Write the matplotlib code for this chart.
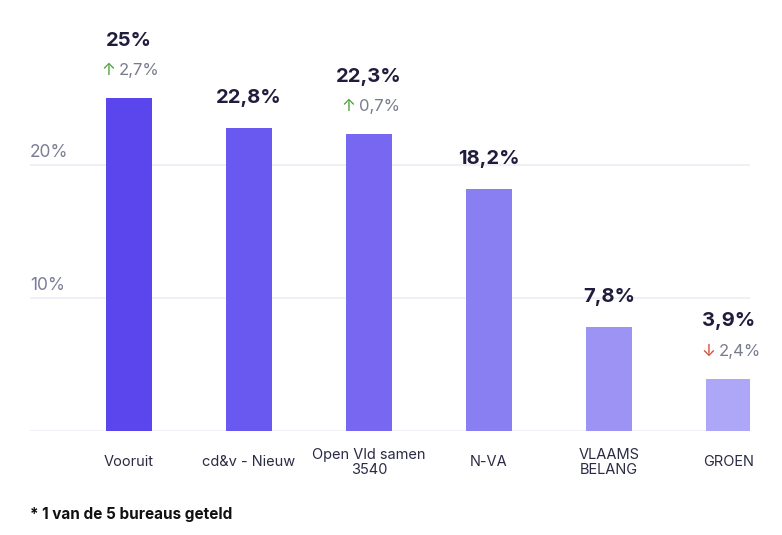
import matplotlib
matplotlib.use("Agg")
import matplotlib.pyplot as plt

plt.rcParams['font.family'] = ['Inter', 'DejaVu Sans']

parties = ["Vooruit", "cd&v - Nieuw", "Open Vld samen\n3540", "N-VA", "VLAAMS\nBELANG", "GROEN"]
values = [25.0, 22.8, 22.3, 18.2, 7.8, 3.9]
value_labels = ["25%", "22,8%", "22,3%", "18,2%", "7,8%", "3,9%"]
changes = [2.7, None, 0.7, None, None, -2.4]
change_labels = ["2,7%", None, "0,7%", None, None, "2,4%"]
colors = ["#5b46ee", "#6a59f0", "#7868f1", "#8a7ef3", "#9d93f5", "#aea6f7"]
yticks = [10, 20]
ytick_labels = ["10%", "20%"]


def main():
    fig = plt.figure(figsize=(7.82, 5.35), dpi=100)
    ax = fig.add_axes([30 / 782, 104 / 535, 720 / 782, 427 / 535])

    x = list(range(len(parties)))
    ax.bar(x, values, width=0.385, color=colors, zorder=3)

    ax.set_xlim(-0.825, 5.175)
    ax.set_ylim(0, 32.1)

    for t in [0] + yticks:
        ax.axhline(t, color="#ececf3", lw=1.2, zorder=1)
    for t, lab in zip(yticks, ytick_labels):
        ax.annotate(lab, xy=(0, t), xycoords=("axes fraction", "data"),
                    xytext=(0, 9), textcoords="offset points",
                    ha="left", va="center", fontsize=12.5, color="#7a7d96")

    for i, v in enumerate(values):
        has_change = changes[i] is not None
        dy = 41.5 if has_change else 21.5
        ax.annotate(value_labels[i], xy=(i, v), xytext=(0, dy), textcoords="offset points",
                    ha="center", va="center", fontsize=14.5, fontweight="bold", color="#1f1c3c")
        if has_change:
            up = changes[i] > 0
            ax.annotate("↑" if up else "↓", xy=(i, v), xytext=(-10, 20), textcoords="offset points",
                        ha="right", va="center", fontsize=12,
                        color="#4e9e3c" if up else "#d24a3c")
            ax.annotate(change_labels[i], xy=(i, v), xytext=(-7.5, 20), textcoords="offset points",
                        ha="left", va="center", fontsize=12, color="#797c8e")

    ax.set_xticks(x)
    ax.set_xticklabels(parties, fontsize=10.5, color="#2b2b45", linespacing=1.1)
    for lab in ax.get_xticklabels():
        lab.set_va("center")
    ax.tick_params(axis="x", length=0, pad=22.5)
    ax.set_yticks([])
    for s in ax.spines.values():
        s.set_visible(False)

    fig.text(30 / 782, 1 - 514 / 535, "* 1 van de 5 bureaus geteld", ha="left", va="center",
             fontsize=11, fontweight="bold", color="#111111")

    fig.savefig("out.png", dpi=100, facecolor="white")


if __name__ == "__main__":
    main()
